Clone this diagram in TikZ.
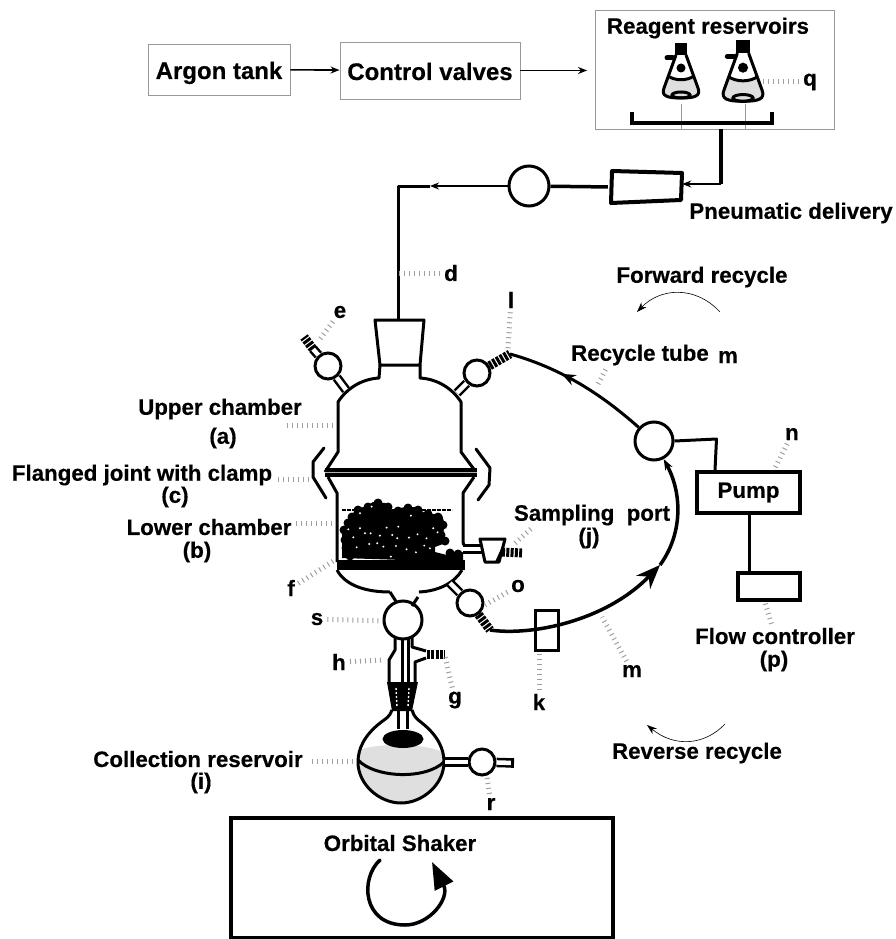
\documentclass[tikz,border=0pt]{standalone}
\usepackage{fontspec}
\setmainfont{Liberation Sans}[BoldFeatures={FakeBold=0.4}]
\usetikzlibrary{arrows.meta,decorations.markings}
\tikzset{
  tag/.style     = {align=center, inner sep=1pt, font=\bfseries\fontsize{22.3}{22}\selectfont},
  box/.style     = {draw=gray!80, line width=0.9pt, font=\bfseries\fontsize{24}{24}\selectfont},
  unit/.style    = {draw, line width=3.5pt, inner sep=0pt},
  wall/.style    = {line width=3pt, line join=round},
  pipe/.style    = {line width=3.5pt},
  arrow/.style   = {-{Stealth[length=9pt,width=7pt]}, line width=1.6pt},
  tube/.style    = {line width=2.5pt, double=white, double distance=4.5pt},
  thread/.style  = {line width=9pt, dash pattern=on 3pt off 1.3pt},
  cock/.style    = {circle, draw, fill=white, line width=3pt, minimum size=26pt, inner sep=0pt},
  leader/.style  = {gray!75, line width=5pt, dash pattern=on 1pt off 4pt, shorten <=3pt},
  sweep/.style   = {-{Stealth[length=10pt,width=7pt]}, line width=0.6pt},
  flask/.pic     = {
    \fill[gray!25] (-13,24) .. controls (-6,28) and (6,28) .. (13,24) -- (17,34)
      .. controls (20,42) and (14,44) .. (0,44) .. controls (-14,44) and (-20,42) .. (-17,34) -- cycle;
    \draw[wall] (-5,1) -- (-17,34) .. controls (-20,42) and (-14,44) .. (0,44)
      .. controls (14,44) and (20,42) .. (17,34) -- (5,1);
    \draw[wall] (-13,22) .. controls (-6,27) and (6,27) .. (13,22);
    \fill (-6,-11) rectangle (6,1);
    \draw[line width=5pt, line cap=round] (-8,4) -- (-14,4);
    \fill (0,14) circle (4.5);
    \draw[line width=3pt] (0,41) ellipse (9 and 3);
  },
}
\begin{document}
\begin{tikzpicture}[x=1pt,y=-1pt]
  \useasboundingbox (0,0) rectangle (895,939);

  \node[box, minimum width=142pt, minimum height=51pt, text height=24pt, text depth=5pt] (argon) at (219,69.5) {Argon tank};
  \node[box, minimum width=180pt, minimum height=57pt, text height=24pt, text depth=5pt] (valves) at (430,70.5) {Control valves};
  \node[box, minimum width=239pt, minimum height=119pt] (reagent) at (715,69.5) {};
  \node[tag] (reagentTag) at (708,28) {Reagent reservoirs};
  \draw[arrow] (argon) -- (valves);
  \draw[arrow, shorten >=8pt] (valves.east) -- (reagent.west |- valves.east);

  \pic at (681,54) {flask};
  \pic[scale=1.12] at (743,52) {flask};
  \draw[gray!80, line width=0.9pt] (681,104) -- (681,129);
  \draw[gray!80, line width=0.9pt] (745,104) -- (745,129);
  \draw[pipe] (632,112) -- (632,123) -- (772,123) -- (772,112);
  \node[tag] (tagQ) at (810,82) {q};
  \coordinate (ptQ) at (762,82);
  \draw[leader] (tagQ) -- (ptQ);

  \coordinate (outlet) at (721,129);
  \coordinate (bendTop) at (721,184);
  \node[minimum width=70pt, minimum height=29pt, inner sep=0pt] (meter) at (647,187) {};
  \draw[line width=4pt, line join=round] (612,171) -- (682,173) -- (681,200) -- (611,203) -- cycle;
  \draw[pipe] (outlet) -- (bendTop);
  \draw[arrow] (bendTop) -- (bendTop -| meter.east);
  \node[cock, minimum size=40pt] (cockP) at (529,186) {};
  \draw[pipe, shorten <=4pt] (meter.west) -- (cockP);
  \node[tag] (pneu) at (791,213) {Pneumatic delivery};

  \coordinate (arrowTop) at (430,186);
  \coordinate (stopperTop) at (398,320);
  \draw[arrow, line width=2.5pt] (cockP) -- (arrowTop);
  \draw[wall] (arrowTop) -| (stopperTop);
  \draw[wall] (375,320) -- (424,320) -- (420,365) -- (380,365) -- cycle;
  \draw[wall] (380,365) -- (379,378) .. controls (362,379) and (347,388) .. (338,402)
    -- (338,452) -- (325,472);
  \draw[wall] (420,365) -- (420,378) .. controls (437,379) and (452,388) .. (461,402)
    -- (461,452) -- (476,472);
  \draw[line width=8.5pt] (325,472.5) -- (477,472.5);
  \draw[gray!60, line width=1pt] (325,472.5) -- (477,472.5);
  \draw[wall] (328,477) -- (337,493) -- (337,562);
  \draw[wall] (474,477) -- (463,493) -- (463,541) .. controls (463,546) and (465,546) .. (470,546);
  \draw[wall, line cap=round] (324,448) -- (313,462) -- (313,477) -- (326,498);
  \draw[wall, line cap=round] (476,449) -- (490,468) -- (489,485) -- (478,500);

  \fill (342,558) -- (342,532) -- (352,517) -- (355,508) -- (365,507)
    -- (373,502) -- (385,503) -- (392,510) -- (405,507) -- (415,507) -- (425,513) -- (442,515)
    -- (445,525) -- (442,538) -- (448,542) -- (435,547) -- (435,552) -- (447,555) -- (455,555)
    -- (463,552) -- (463,562) -- cycle;
  \foreach \bx/\by in {352/517,358/510,368/507,378/503,388/507,398/511,408/508,418/510,428/514,
    438/517,443/525,441/535,445/541,348/523,344/530,345/540,346/548,350/556,450/553,458/554}
    \fill (\bx,\by) circle (4.5);
  \draw[line width=2pt, dash pattern=on 4pt off 1pt] (342,510) -- (452,510);
  \fill (337,560) rectangle (464.5,570);
  \begin{scope}[shift={(335,495)},x=0.333pt,y=-0.333pt]
    \foreach \sx/\sy in {40/103,75/100,107/115,55/127,90/115,135/122,155/98,190/95,172/120,
      187/130,222/128,248/118,275/130,295/100,228/62,110/35,65/157,103/147,127/145,145/155,
      183/153,215/163,243/172,268/152,285/160,168/185,308/112,75/55}
      \fill[white] (\sx,\sy) circle (1.1pt);
  \end{scope}
  \draw[wall] (337,570) .. controls (345,585) and (365,592) .. (390,592);
  \draw[wall] (419,592) .. controls (440,591) and (455,582) .. (462,570);

  \node[cock] (cockE) at (328,366) {};
  \coordinate (armE) at (346,390);
  \coordinate (midE) at (313,349);
  \coordinate (tipE) at (304,337);
  \draw[tube] (armE) -- (cockE);
  \draw[tube] (cockE) -- (midE);
  \draw[thread] (midE) -- (tipE);

  \node[cock] (cockL) at (477,373) {};
  \coordinate (armL) at (457,393);
  \coordinate (tipL) at (510,354);
  \draw[tube] (armL) -- (cockL);
  \draw[thread] (cockL) -- (tipL);

  \node[cock] (cockO) at (470,603) {};
  \coordinate (armO) at (450,583);
  \coordinate (tipO) at (490,630);
  \draw[tube] (armO) -- (cockO);
  \draw[thread] (cockO) -- (tipO);

  \coordinate (armJ) at (463,549);
  \coordinate (cockJ) at (486,549);
  \coordinate (threadJ) at (502,552);
  \coordinate (tipJ) at (522,553);
  \draw[tube] (armJ) -- (cockJ);
  \draw[wall, fill=white] (480,539) -- (505,539) -- (499,562) -- (485,562) -- cycle;
  \fill (505,540) -- (495,562) -- (500,562) -- cycle;
  \draw[thread] (threadJ) -- (tipJ);

  \node[cock, minimum size=38pt] (cockS) at (403,620) {};
  \draw[wall] (390,592) -- (397,603);
  \draw[wall] (418,597) -- (412,606);
  \draw[wall] (395,637) -- (395,650) -- (389,660) -- (389,684);
  \draw[wall] (402,638) -- (402,684);
  \draw[wall] (408,638) -- (408,684);
  \draw[wall] (412,637) -- (412,647) -- (426,651);
  \draw[wall] (426,658) -- (415,662) -- (415,684);
  \coordinate (armG) at (427,654.5);
  \coordinate (tipG) at (445,654.5);
  \draw[thread] (armG) -- (tipG);

  \fill (387,682) -- (418,682) -- (412,711) -- (392,711) -- cycle;
  \draw[white, line width=1.4pt, dash pattern=on 2pt off 2pt] (396,688) -- (397,707);
  \draw[white, line width=1.4pt, dash pattern=on 2pt off 2pt] (409,688) -- (408,707);
  \draw[wall] (398,708) -- (398,729);
  \draw[wall] (407,708) -- (407,729);

  \fill[gray!25] (360,750) .. controls (375,743) and (425,743) .. (442,752)
    .. controls (444,758) and (444,760) .. (444,762) .. controls (444,785) and (422,803) .. (401,803)
    .. controls (380,803) and (358,785) .. (358,762) -- cycle;
  \fill (403,739) ellipse (20.5 and 9);
  \draw[wall] (392,710) .. controls (390,717) and (385,719) .. (380,723)
    .. controls (365,735) and (358,748) .. (358,762) .. controls (358,785) and (380,803) .. (401,803)
    .. controls (422,803) and (444,785) .. (444,762) .. controls (444,748) and (437,735) .. (422,723)
    .. controls (417,719) and (414,717) .. (412,710);
  \draw[wall] (358,760) .. controls (375,778) and (425,780) .. (444,762);

  \node[cock] (cockR) at (482,762) {};
  \coordinate (armR) at (445,762);
  \coordinate (tipR) at (514,763);
  \draw[tube] (armR) -- (cockR);
  \draw[tube] (cockR) -- (tipR);
  \draw[line width=9pt] ([xshift=-3pt]tipR) -- (tipR);

  \node[cock, minimum size=38pt] (cockM) at (654,441) {};
  \draw[pipe, line width=3pt, postaction={decorate},
    decoration={markings, mark=at position 0.63 with {\arrow{Stealth[length=14pt,width=11pt]}}}]
    (cockM) .. controls (600,393) and (560,368) .. (tipL);
  \coordinate (bigHead) at (660,565);
  \draw[pipe, -{Stealth[length=24pt,width=19pt]}] (tipO) .. controls (530,636) and (605,622) .. (bigHead);
  \draw[pipe, -{Stealth[length=11pt,width=8pt]}] (bigHead) .. controls (682,535) and (683,495) .. (cockM);

  \node[unit, line width=3pt, minimum width=23pt, minimum height=40pt] (unitK) at (546.5,630) {};

  \node[unit, tag, inner sep=0pt, minimum width=103pt, minimum height=41pt] (pump) at (748.5,492.5) {Pump};
  \node[unit, minimum width=62pt, minimum height=27pt] (ctrl) at (769,586.5) {};
  \draw[wall] (cockM.east) -- ++(42,-2) -- (pump.north -| 715,0);
  \draw[wall] (pump.south -| 749,0) -- (ctrl.north -| 749,0);

  \node[unit, line width=3.5pt, minimum width=382pt, minimum height=120pt] (shaker) at (422,878) {};
  \node[tag] (shakerTag) at (400,843) {Orbital Shaker};
  \coordinate (spinFrom) at (380,860);
  \coordinate (spinLow) at (405,925);
  \coordinate (spinTip) at (432,862);
  \draw[line width=3.5pt, line cap=round, -{Triangle[length=27pt,width=20pt]}] (spinFrom)
    .. controls (360,878) and (362,925) .. (spinLow) .. controls (430,925) and (450,898) .. (spinTip);

  \node[tag] (forward) at (702,277) {Forward recycle};
  \node[tag] (reverse) at (697,753) {Reverse recycle};
  \coordinate (fwdFrom) at (720,312);
  \coordinate (fwdTo) at (637,312);
  \coordinate (revFrom) at (725,724);
  \coordinate (revTo) at (647,725);
  \draw[sweep] (fwdFrom) .. controls (695,285) and (660,288) .. (fwdTo);
  \draw[sweep] (revFrom) .. controls (705,745) and (675,748) .. (revTo);

  \node[tag] (tagD) at (451,273) {d};
  \node[tag] (tagE) at (340,312) {e};
  \node[tag] (tagLl) at (511,300) {l};
  \node[tag] (tagA) at (220,409) {Upper chamber};
  \node[tag] (tagAa) at (223,438) {(a)};
  \node[tag] (tagC) at (142,475) {Flanged joint with clamp};
  \node[tag] (tagCc) at (175,497) {(c)};
  \node[tag] (tagB) at (209,527) {Lower chamber};
  \node[tag] (tagBb) at (197,552) {(b)};
  \node[tag] (tagF) at (291,588) {f};
  \node[tag] (tagS) at (317,619) {s};
  \node[tag] (tagH) at (339,662) {h};
  \node[tag] (tagG) at (455,700) {g};
  \node[tag] (tagK) at (539,702) {k};
  \node[tag] (tagM) at (632,671) {m};
  \node[tag] (tagO) at (518,586) {o};
  \node[tag] (tagJ) at (592,515) {Sampling~~port};
  \node[tag] (tagJj) at (589,538) {(j)};
  \node[tag] (tagRec) at (640,355) {Recycle tube};
  \node[tag] (tagMm) at (728,357) {m};
  \node[tag] (tagN) at (792,434) {n};
  \node[tag] (tagP) at (775,636) {Flow controller};
  \node[tag] (tagPp) at (774,661) {(p)};
  \node[tag] (tagI) at (198,759) {Collection reservoir};
  \node[tag] (tagIi) at (201,783) {(i)};
  \node[tag] (tagR) at (491,804) {r};

  \coordinate (ptD) at (398,273);
  \coordinate (ptE) at (320,339);
  \coordinate (ptLl) at (508,350);
  \coordinate (ptA0) at (336,425);
  \coordinate (ptA1) at (287,425);
  \coordinate (ptC0) at (312,479);
  \coordinate (ptC1) at (278,479);
  \coordinate (ptB0) at (335,523);
  \coordinate (ptB1) at (295,523);
  \coordinate (ptF) at (335,560);
  \coordinate (ptS) at (383,621);
  \coordinate (ptH) at (383,660);
  \coordinate (ptG) at (445,656);
  \coordinate (ptK) at (539,652);
  \coordinate (ptM) at (602,617);
  \coordinate (ptO) at (485,605);
  \coordinate (ptJa) at (533,527);
  \coordinate (ptJb) at (513,545);
  \coordinate (ptRa) at (607,367);
  \coordinate (ptRb) at (597,386);
  \coordinate (ptN) at (775,468);
  \coordinate (ptP) at (765,602);
  \coordinate (ptI0) at (356,761);
  \coordinate (ptI1) at (310,761);
  \coordinate (ptR) at (487,777);
  \foreach \from/\to in {tagD/ptD,tagE/ptE,tagLl/ptLl,ptA0/ptA1,ptC0/ptC1,ptB0/ptB1,tagF/ptF,tagS/ptS,
    tagH/ptH,tagG/ptG,tagK/ptK,tagM/ptM,tagO/ptO,ptJa/ptJb,ptRa/ptRb,tagN/ptN,tagP/ptP,ptI0/ptI1,tagR/ptR}
    \draw[leader] (\from) -- (\to);
\end{tikzpicture}
\end{document}
